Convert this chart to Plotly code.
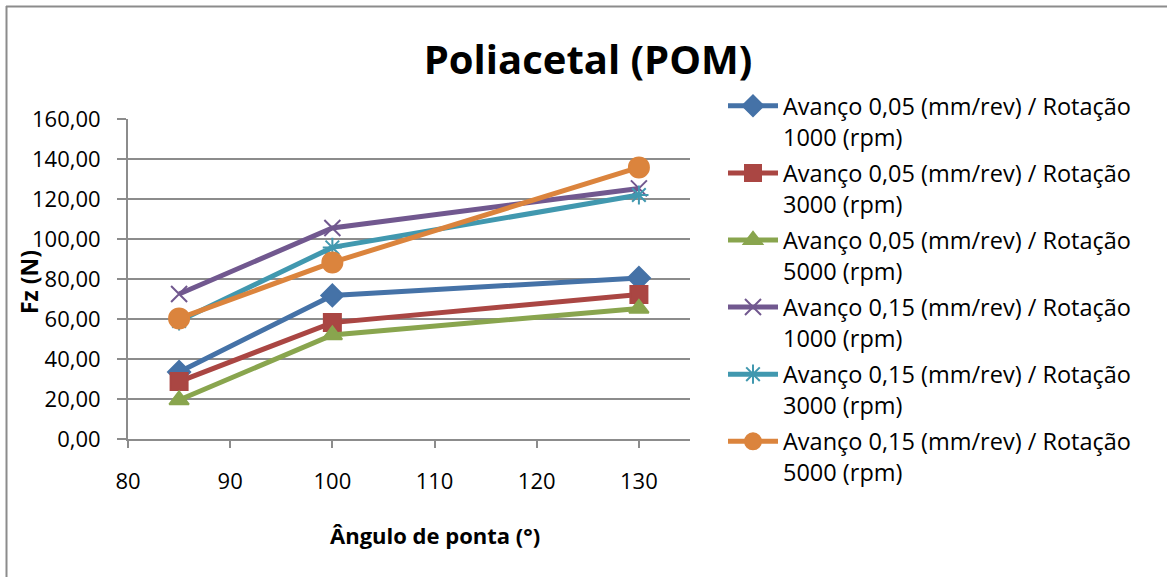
import plotly.graph_objects as go

angles = [85, 100, 130]
series_names = [
    "Avanço 0,05 (mm/rev) / Rotação<br>1000 (rpm)",
    "Avanço 0,05 (mm/rev) / Rotação<br>3000 (rpm)",
    "Avanço 0,05 (mm/rev) / Rotação<br>5000 (rpm)",
    "Avanço 0,15 (mm/rev) / Rotação<br>1000 (rpm)",
    "Avanço 0,15 (mm/rev) / Rotação<br>3000 (rpm)",
    "Avanço 0,15 (mm/rev) / Rotação<br>5000 (rpm)",
]
s1 = [33.5, 71.8, 80.5]
s2 = [28.7, 58.2, 72.3]
s3 = [19.5, 52.0, 65.3]
s4 = [72.5, 105.5, 125.3]
s5 = [59.0, 95.8, 122.0]
s6 = [60.3, 88.3, 135.8]
series_values = [s1, s2, s3, s4, s5, s6]
colors = ["#4572A7", "#AA4643", "#89A54E", "#71588F", "#4198AF", "#DB843D"]
symbols = ["diamond", "square", "triangle-up", "x-thin-open", "asterisk-open", "circle"]
sizes = [17, 17, 17, 16, 16, 20]

L, R, T, B = 128, 690, 119, 439
W, H = 1167, 577

fig = go.Figure()
for i, (name, vals, c, sym, sz) in enumerate(zip(series_names, series_values, colors, symbols, sizes)):
    fig.add_trace(go.Scatter(
        x=angles, y=vals, name=name, mode="lines+markers", legendgroup=str(i),
        line=dict(color=c, width=5),
        marker=dict(symbol=sym, size=sz, color=c, line=dict(color=c, width=2)),
    ))

def px(x):
    return (x - L) / (R - L)

def py(y):
    return (B - y) / (B - T)

fig.update_layout(
    width=W, height=H,
    margin=dict(l=L, r=W - R, t=T, b=H - B),
    paper_bgcolor="white", plot_bgcolor="white",
    separators=",.",
    font=dict(family="Open Sans", color="#000000", size=22),
    title=dict(text="<b>Poliacetal (POM)</b>", x=588 / W, xanchor="center",
               y=1 - 60 / H, yanchor="middle", font=dict(size=40)),
    xaxis=dict(range=[80, 135], tickvals=[80, 90, 100, 110, 120, 130],
               showgrid=False, showline=True, linecolor="#8c8c8c", linewidth=2,
               ticks="outside", ticklen=7, tickcolor="#8c8c8c", tickwidth=2,
               tickfont=dict(size=22), zeroline=False, ticklabelstandoff=15),
    yaxis=dict(range=[0, 160], dtick=20, tickformat=".2f",
               showgrid=True, gridcolor="#8c8c8c", gridwidth=2,
               showline=True, linecolor="#8c8c8c", linewidth=2,
               ticks="outside", ticklen=9, tickcolor="#8c8c8c", tickwidth=2,
               tickfont=dict(size=22), zeroline=False, ticklabelstandoff=12),
    legend=dict(xref="container", yref="container", x=723 / W, y=1 - 84 / H,
                xanchor="left", yanchor="top", valign="top", itemwidth=50,
                font=dict(size=23.5), traceorder="grouped", tracegroupgap=3,
                bgcolor="rgba(0,0,0,0)"),
    showlegend=True,
)
try:
    fig.update_layout(legend_maxheight=1)
except Exception:
    pass

# axis titles
fig.add_annotation(text="<b>Ângulo de ponta (°)</b>", xref="paper", yref="paper",
                   x=px(435), y=py(535), showarrow=False, font=dict(size=22),
                   xanchor="center", yanchor="middle")
fig.add_annotation(text="<b>Fz (N)</b>", xref="paper", yref="paper",
                   x=px(29), y=py(282), showarrow=False, font=dict(size=23),
                   textangle=-90, xanchor="center", yanchor="middle")

# chart frame (top and left edges visible)
fig.add_shape(type="line", xref="paper", yref="paper",
              x0=px(6), x1=px(W + 5), y0=py(6.5), y1=py(6.5),
              line=dict(color="#8c8c8c", width=2))
fig.add_shape(type="line", xref="paper", yref="paper",
              x0=px(6.5), x1=px(6.5), y0=py(6), y1=py(H + 5),
              line=dict(color="#8c8c8c", width=2))

fig.write_html("out.html")
